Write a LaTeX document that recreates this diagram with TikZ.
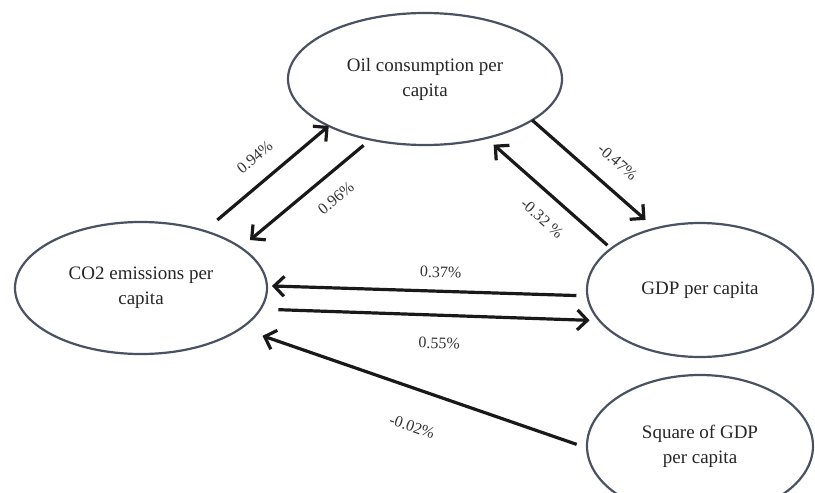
\documentclass[tikz,border=0pt]{standalone}
\usepackage{fontspec}
\setmainfont{Liberation Serif}
\usetikzlibrary{arrows.meta,positioning,shapes.geometric}

\definecolor{rim}{RGB}{72,82,98}

\begin{document}
\begin{tikzpicture}[
  x=1pt, y=-1pt,
  >={Straight Barb[length=10pt,width=20pt]},
  var/.style={
    ellipse, draw=rim, line width=2.2pt,
    inner sep=0pt, outer sep=0pt, align=center,
    font=\fontsize{19}{25}\selectfont, text=black!85
  },
  arr/.style={->, line width=3.2pt, black!90},
  lbl/.style={font=\fontsize{16}{18}\selectfont, sloped, text=black!80, inner sep=2pt}
]
  \useasboundingbox (0,0) rectangle (815,493);

  % variables
  \node[var, minimum width=274pt, minimum height=132pt] (oil) at (425,79)
    {Oil consumption per\\capita};
  \node[var, minimum width=252pt, minimum height=132pt] (co2) at (141,288)
    {CO2 emissions per\\capita};
  \node[var, minimum width=226pt, minimum height=134pt] (gdp) at (700,290)
    {GDP per capita};
  \node[var, minimum width=226pt, minimum height=142pt] (sq) at (700,446)
    {Square of GDP\\per capita};

  % effects
  \draw[arr, shorten <=17pt] (co2.42) -- (oil.206)
    node[lbl, pos=.53, above=15pt] {0.94\%};
  \draw[arr, shorten <=9pt, shorten >=12pt] (oil.228) -- (co2.22)
    node[lbl, pos=.38, below=14pt] {0.96\%};
  \draw[arr, shorten >=13pt] (oil.339) -- (gdp.126)
    node[lbl, pos=.56, above=16pt] {-0.47\%};
  \draw[arr, shorten <=5pt, shorten >=10pt] (gdp.155) -- (oil.316)
    node[lbl, pos=.43, below=14pt] {-0.32 \%};
  \draw[arr, shorten <=11pt, shorten >=5pt] (gdp.183) -- (co2.1)
    node[lbl, pos=.46, above=10pt] {0.37\%};
  \draw[arr, shorten <=18pt, shorten >=10pt] (co2.350) -- (gdp.197)
    node[lbl, pos=.53, below=19pt] {0.55\%};
  \draw[arr, shorten <=11pt, shorten >=23pt] (sq.181) -- (co2.338)
    node[lbl, pos=.47, below=28pt] {-0.02\%};
\end{tikzpicture}
\end{document}
